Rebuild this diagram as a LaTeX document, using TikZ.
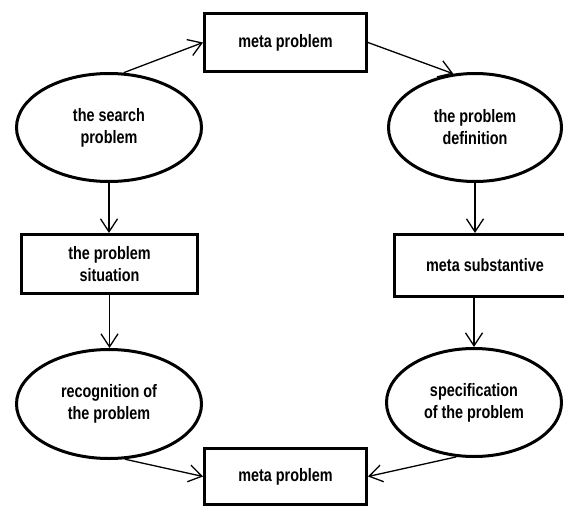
\documentclass[tikz,border=0pt]{standalone}
\usepackage{fontspec}
\newfontfamily\diagfont{Liberation Sans}[FakeStretch=0.8]
\usetikzlibrary{arrows.meta,shapes.geometric}

\begin{document}
\begin{tikzpicture}[x=1pt,y=-1pt,
  label text/.style={font=\diagfont\bfseries\fontsize{18}{22}\selectfont,align=center},
  blob/.style={ellipse,draw,line width=3pt,inner sep=0pt,label text},
  stagebox/.style={rectangle,draw,line width=3pt,inner sep=0pt,label text},
  flow/.style={line width=1.3pt,-{Straight Barb[length=13pt,width=17pt,line width=1.3pt]}}]
\useasboundingbox (0,0) rectangle (564,508);
% top and bottom boxes
\node[stagebox,minimum width=162pt,minimum height=58pt] (metatop) at (285.5,42.5) {meta problem};
\node[stagebox,minimum width=162pt,minimum height=56pt] (metabot) at (285.5,476.5) {meta problem};
% left column
\node[blob,minimum width=185pt,minimum height=108pt] (search) at (109,127.5) {the search\\problem};
\node[stagebox,minimum width=176pt,minimum height=59pt] (situation) at (109.5,264) {the problem\\situation};
\node[blob,minimum width=185pt,minimum height=109pt] (recognition) at (109,404) {recognition of\\the problem};
% right column
\node[blob,minimum width=173pt,minimum height=108pt] (definition) at (475,127.5) {the problem\\definition};
\node[stagebox,minimum width=181pt,minimum height=62pt] (substantive) at (485,265.5) {meta substantive};
\node[blob,minimum width=175pt,minimum height=108pt] (spec) at (474,402.5) {specification\\of the problem};
% arrows
\draw[flow] (search.75) -- (metatop.west);
\draw[flow] (metatop.east) -- (definition.112);
\draw[flow] (search.south) -- (search.south |- situation.north);
\draw[flow] (situation.south) -- (situation.south |- recognition.north);
\draw[flow] (definition.south) -- (definition.south |- substantive.north);
\draw[flow] (spec.north |- substantive.south) -- (spec.north);
\draw[flow] (recognition.-74) -- (metabot.west);
\draw[flow] (spec.-108) -- (metabot.east);
\end{tikzpicture}
\end{document}
